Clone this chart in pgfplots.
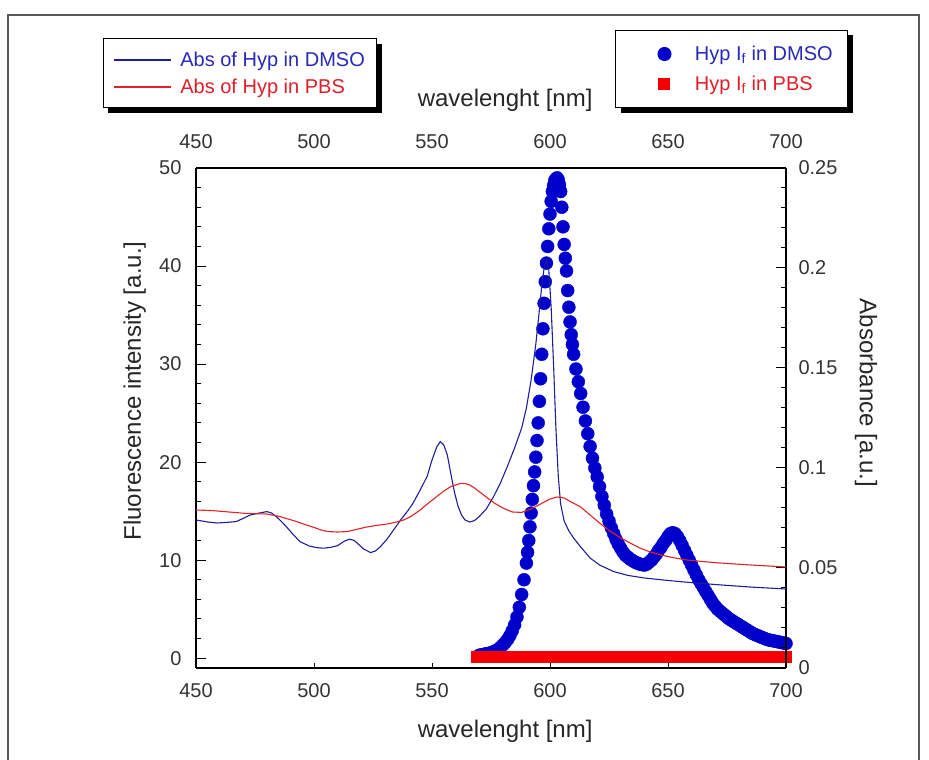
\documentclass[border=0pt]{standalone}
\usepackage{fontspec}
\setmainfont{Liberation Sans}
\usepackage{pgfplots}
\pgfplotsset{compat=1.18}
\usetikzlibrary{shadows}
\makeatletter
\tikzset{nopreact/.code={\def\tikz@preactions{}}}
\makeatother

\definecolor{dmsoline}{RGB}{30,30,150}
\definecolor{pbsline}{RGB}{225,35,35}
\definecolor{dotblue}{RGB}{0,0,205}
\definecolor{sqred}{RGB}{245,0,0}
\definecolor{txtblue}{RGB}{40,40,185}
\definecolor{txtred}{RGB}{225,30,40}

\pgfplotstableread{
lam F
570 0.3
571 0.35
572 0.4
573 0.45
574 0.5
575 0.55
576 0.65
577 0.75
578 0.9
579 1.1
580 1.35
581 1.6
582 1.9
583 2.3
584 2.8
585 3.4
586 4.2
587 5.2
588 6.5
589 8.0
590 9.7
590.5 10.8
591 12.0
591.5 13.4
592 14.8
592.5 16.2
593 17.6
593.5 19.0
594 20.5
594.5 22.2
595 24.0
595.5 26.2
596 28.5
596.5 31.0
597 33.6
597.5 36.2
598 38.4
598.5 40.3
599 42.0
599.5 43.8
600 45.3
600.5 46.6
601 47.6
601.5 48.2
602 48.7
602.5 48.9
603 49.0
603.5 48.8
604 48.3
604.5 47.6
605 46.0
605.5 44.0
606 42.2
606.5 40.8
607 39.5
607.5 37.5
608 35.8
608.5 34.3
609 33.0
609.5 32.0
610 31.0
611 29.5
612 28.2
613 27.0
614 25.6
615 24.2
616 22.9
617 21.6
618 20.4
619 19.4
620 18.5
621 17.5
622 16.5
623 15.6
624 14.7
625 14.0
626 13.3
627 12.7
628 12.1
629 11.6
630 11.2
631 10.8
632 10.5
633 10.3
634 10.1
635 9.95
636 9.8
637 9.7
638 9.6
639 9.55
640 9.5
641 9.6
642 9.8
643 10.0
644 10.3
645 10.6
646 11.0
647 11.3
648 11.7
649 12.0
650 12.4
651 12.7
652 12.8
653 12.7
654 12.4
655 12.0
656 11.5
657 11.0
658 10.5
659 10.0
660 9.5
661 9.0
662 8.5
663 8.0
664 7.6
665 7.2
666 6.8
667 6.4
668 6.0
669 5.6
670 5.3
671 5.0
672 4.8
673 4.6
674 4.4
675 4.2
676 4.0
677 3.85
678 3.7
679 3.55
680 3.4
681 3.25
682 3.1
683 2.95
684 2.8
685 2.65
686 2.5
687 2.4
688 2.3
689 2.2
690 2.1
691 2.0
692 1.9
693 1.85
694 1.8
695 1.75
696 1.7
697 1.65
698 1.6
699 1.55
700 1.5
}\dmsoF

\pgfplotstableread{
lam A
450 0.0740
455 0.0730
459 0.0725
463 0.0728
467 0.0732
470 0.0748
473 0.0765
477 0.0775
480 0.0782
482 0.0775
484 0.0757
486 0.0735
488 0.0710
491 0.0670
494 0.0632
498 0.0610
501 0.0602
504 0.0599
507 0.0603
510 0.0612
513 0.0635
515 0.0644
517 0.0638
519 0.0617
521 0.0595
524 0.0577
526 0.0585
528 0.0605
531 0.0645
534 0.0695
537 0.0745
540 0.0790
542 0.0825
545 0.0890
548 0.0960
550 0.1040
552 0.1105
553.5 0.1132
555 0.1115
556.5 0.1065
558 0.0970
559.5 0.0880
561 0.0810
562.5 0.0765
564 0.0740
566 0.0730
568 0.0737
570 0.0757
573 0.0795
576 0.0855
579 0.0925
582 0.1010
585 0.1100
588 0.1200
590 0.1300
592 0.1440
594 0.1620
595.5 0.1790
596.5 0.1910
597.5 0.2000
598.5 0.2040
599.5 0.1990
600.5 0.1800
601.5 0.1520
602.5 0.1200
603.5 0.0960
604.5 0.0820
606 0.0735
608 0.0685
610 0.0650
613 0.0605
617 0.0550
621 0.0515
627 0.0482
633 0.0463
640 0.0450
648 0.0440
655 0.0432
665 0.0422
675 0.0413
686 0.0404
700 0.0395
}\dmsoA

\pgfplotstableread{
lam A
450 0.0790
457 0.0787
464 0.0780
471 0.0773
480 0.0770
485.6 0.0757
489 0.0745
492.7 0.0732
496 0.0718
499.7 0.0704
503 0.0690
506 0.0682
510 0.0680
514 0.0682
518 0.0693
522 0.0704
526 0.0712
531 0.0720
535 0.0730
538 0.0740
541 0.0757
545 0.0790
548 0.0820
552 0.0857
555 0.0885
558 0.0907
562 0.0923
564 0.0922
566 0.0915
568 0.0900
570 0.0882
573 0.0855
576 0.0828
580 0.0800
584 0.0780
588 0.0778
592 0.0795
596 0.0820
600 0.0845
603 0.0855
606 0.0850
609 0.0830
613 0.0805
617 0.0765
621 0.0725
625 0.0688
630 0.0650
634 0.0625
638 0.0600
642 0.0582
647 0.0565
652 0.0552
658 0.0540
665 0.0532
672 0.0525
685 0.0515
700 0.0505
}\pbsA

\begin{document}
\begin{tikzpicture}[x=1pt,y=1pt]
\path[use as bounding box] (0,0) rectangle (929,760);
\draw[black!65, line width=1.2pt] (8,-5) -- (8,745) -- (919,745) -- (919,-5);

\begin{axis}[
  at={(196pt,92pt)}, anchor=south west,
  scale only axis, width=590pt, height=500pt,
  xmin=450, xmax=700, ymin=-1, ymax=50,
  axis x line*=bottom, axis y line*=left,
  clip=false,
  xtick={450,500,550,600,650,700},
  ytick={0,10,20,30,40,50},
  minor y tick num=4,
  tick align=inside,
  major tick length=10pt, minor tick length=5pt,
  xtick style={/pgfplots/major tick length=5pt},
  tick style={black, line width=1pt},
  axis line style={black, line width=1.3pt},
  /pgf/number format/assume math mode=true,
  tick label style={font=\fontsize{20}{24}\selectfont, black!80},
  xticklabel style={yshift=-12pt},
  yticklabel style={xshift=-11pt},
  xlabel={wavelenght [nm]},
  ylabel={Fluorescence intensity [a.u.]},
  label style={font=\fontsize{24}{28}\selectfont, black!85},
  xlabel style={at={(axis description cs:0.524,-0.126)}, anchor=center},
  ylabel style={at={(axis description cs:-0.104,0.554)}, anchor=center},
  legend style={at={(axis description cs:0.711,1.277)}, anchor=north west,
    draw=black, line width=1pt, fill=white,
    drop shadow={shadow xshift=5pt, shadow yshift=-5pt, fill=black, opacity=1},
    font=\fontsize{20}{24}\selectfont,
    inner xsep=13pt, inner ysep=14pt, row sep=10pt,
    legend cell align=left},
  legend image code/.code={\path[nopreact] (0pt,0pt) (63pt,0pt); \draw[nopreact,#1] plot coordinates {(35pt,0pt)};},
]
\addplot[only marks, mark=*, mark size=6.5pt, color=dotblue] table[x=lam, y=F] {\dmsoF};
\addlegendentry{\textcolor{txtblue}{Hyp I\textsubscript{f} in DMSO}}
\addplot[only marks, mark=square*, mark size=5.5pt, color=sqred] coordinates {
(569,0.15)(570,0.15)(571,0.15)(572,0.15)(573,0.15)(574,0.15)(575,0.15)(576,0.15)(577,0.15)(578,0.15)
(579,0.15)(580,0.15)(581,0.15)(582,0.15)(583,0.15)(584,0.15)(585,0.15)(586,0.15)(587,0.15)(588,0.15)
(589,0.15)(590,0.15)(591,0.15)(592,0.15)(593,0.15)(594,0.15)(595,0.15)(596,0.15)(597,0.15)(598,0.15)
(599,0.15)(600,0.15)(601,0.15)(602,0.15)(603,0.15)(604,0.15)(605,0.15)(606,0.15)(607,0.15)(608,0.15)
(609,0.15)(610,0.15)(611,0.15)(612,0.15)(613,0.15)(614,0.15)(615,0.15)(616,0.15)(617,0.15)(618,0.15)
(619,0.15)(620,0.15)(621,0.15)(622,0.15)(623,0.15)(624,0.15)(625,0.15)(626,0.15)(627,0.15)(628,0.15)
(629,0.15)(630,0.15)(631,0.15)(632,0.15)(633,0.15)(634,0.15)(635,0.15)(636,0.15)(637,0.15)(638,0.15)
(639,0.15)(640,0.15)(641,0.15)(642,0.15)(643,0.15)(644,0.15)(645,0.15)(646,0.15)(647,0.15)(648,0.15)
(649,0.15)(650,0.15)(651,0.15)(652,0.15)(653,0.15)(654,0.15)(655,0.15)(656,0.15)(657,0.15)(658,0.15)
(659,0.15)(660,0.15)(661,0.15)(662,0.15)(663,0.15)(664,0.15)(665,0.15)(666,0.15)(667,0.15)(668,0.15)
(669,0.15)(670,0.15)(671,0.15)(672,0.15)(673,0.15)(674,0.15)(675,0.15)(676,0.15)(677,0.15)(678,0.15)
(679,0.15)(680,0.15)(681,0.15)(682,0.15)(683,0.15)(684,0.15)(685,0.15)(686,0.15)(687,0.15)(688,0.15)
(689,0.15)(690,0.15)(691,0.15)(692,0.15)(693,0.15)(694,0.15)(695,0.15)(696,0.15)(697,0.15)(698,0.15)
(699,0.15)(700,0.15)
};
\addlegendentry{\textcolor{txtred}{Hyp I\textsubscript{f} in PBS}}
\end{axis}

\begin{axis}[
  at={(196pt,92pt)}, anchor=south west,
  scale only axis, width=590pt, height=500pt,
  xmin=450, xmax=700, ymin=0, ymax=0.25,
  axis x line*=top, axis y line*=right,
  xtick={450,500,550,600,650,700},
  ytick={0,0.05,0.1,0.15,0.2,0.25},
  minor y tick num=4,
  tick align=inside,
  major tick length=10pt, minor tick length=5pt,
  xtick style={draw=none},
  tick style={black, line width=1pt},
  axis line style={black, line width=1.3pt},
  /pgf/number format/assume math mode=true,
  yticklabel style={/pgf/number format/fixed, /pgf/number format/precision=2, xshift=9pt},
  tick label style={font=\fontsize{20}{24}\selectfont, black!80},
  xticklabel style={yshift=16pt},
  xlabel={wavelenght [nm]},
  ylabel={Absorbance [a.u.]},
  label style={font=\fontsize{24}{28}\selectfont, black!85},
  xlabel style={at={(axis description cs:0.524,1.136)}, anchor=center},
  ylabel style={at={(axis description cs:1.1356,0.55)}, anchor=center, rotate=180},
  legend style={at={(axis description cs:-0.158,1.259)}, anchor=north west,
    draw=black, line width=1pt, fill=white,
    drop shadow={shadow xshift=5pt, shadow yshift=-5pt, fill=black, opacity=1},
    font=\fontsize{20}{24}\selectfont,
    inner xsep=10pt, inner ysep=11pt, row sep=7pt,
    legend cell align=left},
  legend image code/.code={\path[nopreact] (0pt,0pt) (64pt,0pt); \draw[nopreact,#1] (0pt,0pt) -- (57pt,0pt);},
]
\addplot[color=dmsoline, line width=1.1pt] table[x=lam, y=A] {\dmsoA};
\addlegendentry{\textcolor{txtblue}{Abs of Hyp in DMSO}}
\addplot[color=pbsline, line width=1.1pt] table[x=lam, y=A] {\pbsA};
\addlegendentry{\textcolor{txtred}{Abs of Hyp in PBS}}
\end{axis}
\end{tikzpicture}
\end{document}
